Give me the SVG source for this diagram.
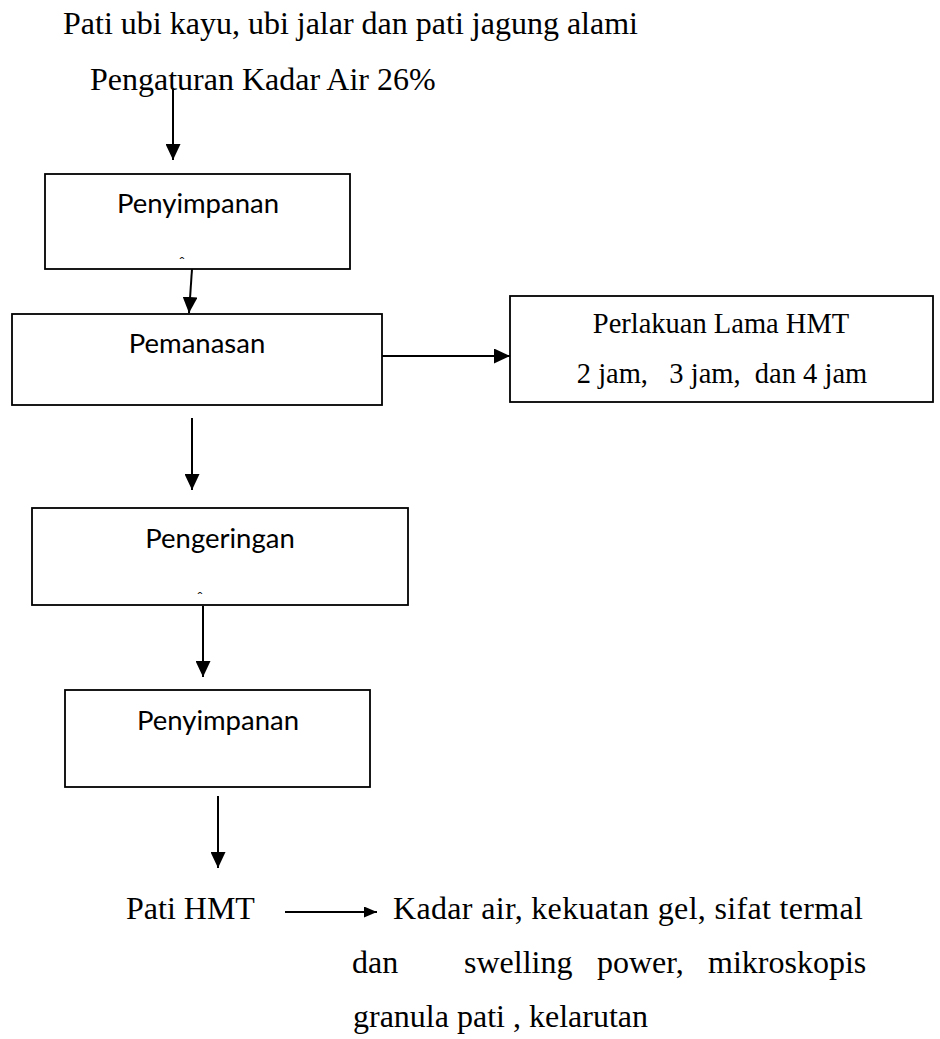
<svg xmlns="http://www.w3.org/2000/svg" width="940" height="1039" viewBox="0 0 940 1039">
<style>
.serif{font-family:"Liberation Serif","Times New Roman",serif;fill:#000}
.sans{font-family:Lato,"Open Sans",sans-serif;fill:#000;font-size:27.5px}
.caret{font-family:Lato,"Open Sans",sans-serif;fill:#000;font-size:16px}
.box{fill:#fff;stroke:#000;stroke-width:1.8}
.conn{stroke:#000;stroke-width:2;fill:none}
</style>
<defs>
<marker id="ah" markerUnits="userSpaceOnUse" markerWidth="16" markerHeight="15" refX="16" refY="7.5" orient="auto">
<path d="M0,0 L16,7.5 L0,15 z" fill="#000"/>
</marker>
<marker id="ahs" markerUnits="userSpaceOnUse" markerWidth="13" markerHeight="11" refX="13" refY="5.5" orient="auto">
<path d="M0,0 L13,5.5 L0,11 z" fill="#000"/>
</marker>
</defs>
<rect width="940" height="1039" fill="#fff"/>
<g id="title">
<text class="serif" x="63" y="34" font-size="32">Pati ubi kayu, ubi jalar dan pati jagung alami</text>
<text class="serif" x="90" y="90" font-size="32">Pengaturan Kadar Air 26%</text>
</g>
<g id="connectors">
<line class="conn" x1="173" y1="88" x2="173" y2="160" marker-end="url(#ah)"/>
<line class="conn" x1="192" y1="269" x2="189" y2="313" marker-end="url(#ah)"/>
<line class="conn" x1="382" y1="356" x2="510" y2="356" marker-end="url(#ah)"/>
<line class="conn" x1="192" y1="418" x2="192" y2="490" marker-end="url(#ah)"/>
<line class="conn" x1="203" y1="606" x2="203" y2="677" marker-end="url(#ah)"/>
<line class="conn" x1="218" y1="796" x2="218" y2="868" marker-end="url(#ah)"/>
<line class="conn" x1="285" y1="912" x2="377" y2="912" marker-end="url(#ahs)"/>
</g>
<g id="node-penyimpanan1">
<rect class="box" x="45" y="174" width="305" height="95"/>
<text class="sans" x="198" y="213" text-anchor="middle">Penyimpanan</text>
<text class="caret" x="182" y="268" text-anchor="middle">ˆ</text>
</g>
<g id="node-pemanasan">
<rect class="box" x="12" y="314" width="370" height="91"/>
<text class="sans" x="197" y="353" text-anchor="middle">Pemanasan</text>
</g>
<g id="node-perlakuan">
<rect class="box" x="510" y="296" width="423" height="106"/>
<text class="serif" x="721" y="333" font-size="28.5" text-anchor="middle">Perlakuan Lama HMT</text>
<text class="serif" x="722" y="383" font-size="28.5" text-anchor="middle" xml:space="preserve">2 jam,   3 jam,  dan 4 jam</text>
</g>
<g id="node-pengeringan">
<rect class="box" x="32" y="508" width="376" height="97"/>
<text class="sans" x="220" y="548" text-anchor="middle">Pengeringan</text>
<text class="caret" x="200" y="603" text-anchor="middle">ˆ</text>
</g>
<g id="node-penyimpanan2">
<rect class="box" x="65" y="690" width="305" height="97"/>
<text class="sans" x="218" y="730" text-anchor="middle">Penyimpanan</text>
</g>
<g id="node-pati-hmt">
<text class="serif" x="126" y="919" font-size="32">Pati HMT</text>
</g>
<g id="node-analisis">
<text class="serif" x="393" y="919" font-size="32" textLength="470" lengthAdjust="spacing">Kadar air, kekuatan gel, sifat termal</text>
<text class="serif" x="352" y="973" font-size="32">dan</text>
<text class="serif" x="464" y="973" font-size="32">swelling</text>
<text class="serif" x="597" y="973" font-size="32">power,</text>
<text class="serif" x="708" y="973" font-size="32">mikroskopis</text>
<text class="serif" x="353" y="1027" font-size="32">granula pati , kelarutan</text>
</g>
</svg>
